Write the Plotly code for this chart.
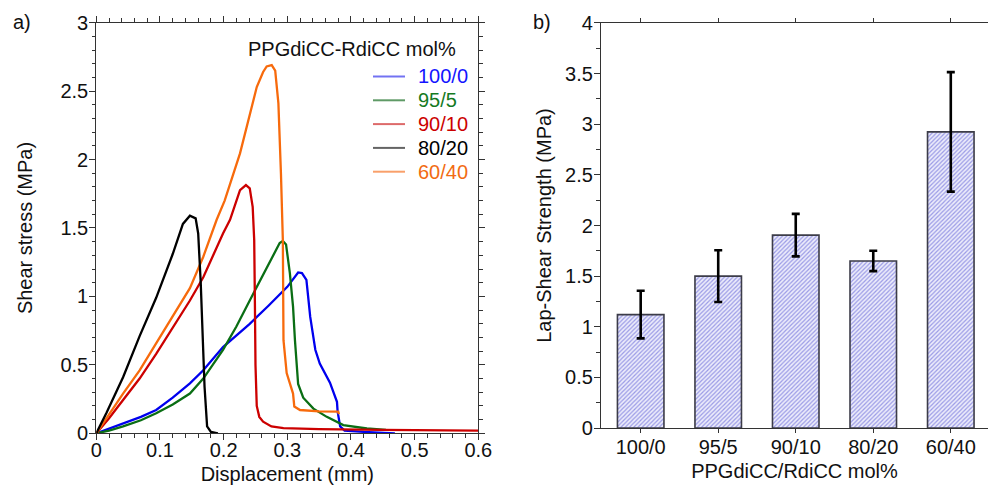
import plotly.graph_objects as go

# ---- Panel a) data: displacement (mm) vs shear stress (MPa)
x_100_0 = [0, 0.02, 0.042, 0.07, 0.094, 0.12, 0.147, 0.168, 0.199, 0.241, 0.27, 0.3, 0.317, 0.323, 0.33,
           0.336, 0.344, 0.351, 0.367, 0.378, 0.379, 0.383, 0.39, 0.42, 0.469]
y_100_0 = [0, 0.035, 0.068, 0.12, 0.17, 0.26, 0.365, 0.46, 0.63, 0.80, 0.93, 1.07, 1.175, 1.17, 1.12,
           0.85, 0.61, 0.51, 0.37, 0.23, 0.16, 0.05, 0.02, 0.01, 0.0]

x_95_5 = [0, 0.02, 0.042, 0.07, 0.094, 0.12, 0.147, 0.168, 0.199, 0.22, 0.241, 0.26, 0.278, 0.288, 0.293,
          0.298, 0.304, 0.309, 0.312, 0.317, 0.325, 0.341, 0.362, 0.388, 0.425, 0.455]
y_95_5 = [0, 0.02, 0.05, 0.095, 0.146, 0.21, 0.29, 0.40, 0.61, 0.78, 0.97, 1.14, 1.31, 1.39, 1.405,
          1.38, 1.17, 0.925, 0.68, 0.36, 0.26, 0.18, 0.12, 0.06, 0.035, 0.025]

x_90_10 = [0, 0.02, 0.042, 0.068, 0.094, 0.12, 0.147, 0.168, 0.199, 0.21, 0.22, 0.2257, 0.235, 0.241,
           0.2456, 0.248, 0.249, 0.25, 0.252, 0.256, 0.262, 0.275, 0.294, 0.35, 0.45, 0.6]
y_90_10 = [0, 0.11, 0.243, 0.40, 0.58, 0.77, 0.97, 1.14, 1.46, 1.56, 1.70, 1.777, 1.814, 1.79,
           1.655, 1.41, 1.0, 0.5, 0.2, 0.12, 0.085, 0.05, 0.037, 0.03, 0.025, 0.02]

x_80_20 = [0, 0.016, 0.042, 0.068, 0.094, 0.12, 0.136, 0.147, 0.156, 0.16, 0.164, 0.167, 0.170, 0.174,
           0.18, 0.191]
y_80_20 = [0, 0.15, 0.41, 0.71, 0.99, 1.31, 1.53, 1.59, 1.57, 1.46, 1.10, 0.73, 0.34, 0.05, 0.01, 0.0]

x_60_40 = [0, 0.02, 0.042, 0.068, 0.094, 0.12, 0.147, 0.168, 0.189, 0.2016, 0.2257, 0.252, 0.262, 0.2676,
           0.2755, 0.281, 0.286, 0.29, 0.293, 0.294, 0.299, 0.309, 0.311, 0.32, 0.35, 0.38, 0.381]
y_60_40 = [0, 0.14, 0.29, 0.46, 0.66, 0.85, 1.06, 1.29, 1.56, 1.70, 2.045, 2.53, 2.64, 2.68,
           2.69, 2.65, 2.41, 1.9, 1.41, 0.68, 0.44, 0.29, 0.195, 0.17, 0.16, 0.158, 0.14]

series_names = ["100/0", "95/5", "90/10", "80/20", "60/40"]
series_colors = ["#0000ee", "#0a6e14", "#cc0000", "#000000", "#f76a0c"]
legend_colors = ["#7272f2", "#5f9a66", "#dd6a6a", "#646464", "#f9a06a"]
text_colors = ["#1414ff", "#157a1f", "#cc0000", "#000000", "#f26b12"]
curves = [(x_100_0, y_100_0), (x_95_5, y_95_5), (x_90_10, y_90_10), (x_80_20, y_80_20), (x_60_40, y_60_40)]

# ---- Panel b) data
categories = ["100/0", "95/5", "90/10", "80/20", "60/40"]
strength = [1.12, 1.50, 1.905, 1.65, 2.925]
strength_err = [0.235, 0.255, 0.21, 0.10, 0.59]

FONT = "Liberation Sans, Arial, sans-serif"
AX = "#333333"
FS = 20
W, H = 988, 487

fig = go.Figure()

for i in [0, 1, 2, 4, 3]:
    xs, ys = curves[i]
    fig.add_trace(go.Scatter(x=xs, y=ys, mode="lines", line=dict(color=series_colors[i], width=2.3),
                             showlegend=False, xaxis="x", yaxis="y", hoverinfo="skip"))

fig.add_trace(go.Bar(
    x=categories, y=strength, width=0.6, xaxis="x2", yaxis="y2", showlegend=False,
    marker=dict(color="#ececfb", line=dict(color="#3c3c48", width=1.6),
                pattern=dict(shape="/", fgcolor="#9a9ae6", bgcolor="#ececfb", size=3, solidity=0.4)),
    error_y=dict(type="data", array=strength_err, color="black", thickness=2.6, width=4),
))

base = dict(showgrid=False, zeroline=False, tickcolor=AX, tickwidth=1, linecolor=AX, linewidth=1.2,
            showline=True, ticks="outside", automargin=False,
            tickfont=dict(family=FONT, size=FS, color="#111"))

XA = [0.0975, 0.4841]
YA = [0.1103, 0.9534]
XB = [0.6083, 1.0]
YB = [0.1211, 0.9528]

fig.update_layout(
    template="none",
    width=W, height=H, margin=dict(l=0, r=0, t=0, b=0, pad=0, autoexpand=False),
    paper_bgcolor="white", plot_bgcolor="white",
    font=dict(family=FONT, size=FS, color="#111"),
    hovermode=False, showlegend=False,
    xaxis=dict(domain=XA, range=[0, 0.6], dtick=0.1, ticklen=6, mirror="ticks", ticklabelstandoff=-7,
               minor=dict(dtick=0.02, ticks="outside", ticklen=3.5, tickcolor=AX, tickwidth=1),
               title=dict(text="Displacement (mm)", standoff=6, font=dict(size=FS)), anchor="y", **base),
    yaxis=dict(domain=YA, range=[0, 3], dtick=0.5, ticklen=6, mirror="ticks", ticklabelstandoff=-3,
               minor=dict(dtick=0.1, ticks="outside", ticklen=3.5, tickcolor=AX, tickwidth=1),
               title=dict(text="Shear stress (MPa)", standoff=22, font=dict(size=FS)), anchor="x", **base),
    xaxis2=dict(domain=XB, range=[-0.512, 4.48], type="category", ticklen=4, mirror="ticks",
                ticklabelstandoff=-3,
                title=dict(text="PPGdiCC/RdiCC mol%", standoff=6, font=dict(size=FS)), anchor="y2", **base),
    yaxis2=dict(domain=YB, range=[0, 4], dtick=0.5, ticklen=6, mirror=False, ticklabelstandoff=-3,
                minor=dict(dtick=0.25, ticks="outside", ticklen=3.5, tickcolor=AX, tickwidth=1),
                title=dict(text="Lap-Shear Strength (MPa)", standoff=8, font=dict(size=FS)), anchor="x2", **base),
)

# manual legend for panel a
leg_x0, leg_x1, leg_tx = 373 / W, 405 / W, 416 / W
leg_y0, leg_dy = 76.5, 23.8
shapes = []
annotations = []
for i, nm in enumerate(series_names):
    yy = 1 - (leg_y0 + i * leg_dy) / H
    shapes.append(dict(type="line", xref="paper", yref="paper", x0=leg_x0, x1=leg_x1, y0=yy, y1=yy,
                       line=dict(color=legend_colors[i], width=2)))
    annotations.append(dict(text=nm, x=leg_tx, y=yy, xref="paper", yref="paper", xanchor="left",
                            yanchor="middle", showarrow=False,
                            font=dict(family=FONT, size=FS, color=text_colors[i])))
annotations += [
    dict(text="PPGdiCC-RdiCC mol%", x=458 / W, y=1 - 49 / H, xref="paper", yref="paper",
         xanchor="right", yanchor="middle", showarrow=False, font=dict(family=FONT, size=FS, color="#111")),
    dict(text="a)", x=11 / W, y=1 - 22 / H, xref="paper", yref="paper", xanchor="left", yanchor="middle",
         showarrow=False, font=dict(family=FONT, size=FS, color="#111")),
    dict(text="b)", x=531 / W, y=1 - 22 / H, xref="paper", yref="paper", xanchor="left", yanchor="middle",
         showarrow=False, font=dict(family=FONT, size=FS, color="#111")),
]
fig.update_layout(shapes=shapes, annotations=annotations)

fig.write_html("out.html")
